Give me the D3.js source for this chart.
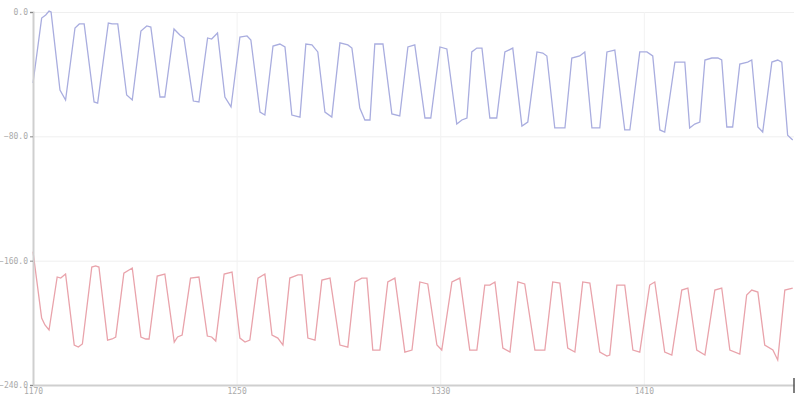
<!DOCTYPE html>
<html><head><meta charset="utf-8">
<script src="https://cdn.jsdelivr.net/npm/d3@7"></script>
<style>
html,body{margin:0;padding:0;background:#fff;}
svg{display:block;}
.tick text{font-family:"DejaVu Sans Mono",monospace;font-size:8px;fill:#aaa;}
</style></head>
<body><svg id="c" width="800" height="400"></svg>
<script>
const xTicks = [1170, 1250, 1330, 1410];
const yTicks = [0, -80, -160, -240];
const xDomain = [1170, 1469];
const yDomain = [-240, 0];

const blueX = [1170,1173.4,1175,1176.3,1177.1,1180.6,1182.8,1186.5,1188.2,1190.1,1194,1195.4,1199.6,1201.1,1203.3,1206.8,1209,1212.4,1214.7,1216.3,1219.9,1221.8,1225.4,1227.7,1229.3,1233,1235.2,1238.6,1240.2,1242.5,1245.4,1247.8,1251.3,1254.1,1255.6,1259.2,1261.1,1264.3,1267,1269,1271.7,1274.9,1277.2,1279.6,1281.9,1284.7,1287.4,1290.6,1293.7,1295.3,1298.4,1300.4,1302.4,1304.3,1307.5,1311,1314.1,1317.3,1320,1324,1326.3,1329.9,1332.6,1336.5,1338.5,1340.5,1342.4,1344.4,1346.4,1349.5,1352.2,1355.4,1358.5,1362.1,1364.4,1368,1370.3,1371.9,1375,1379,1381.7,1384.8,1386.8,1389.6,1392.7,1395.5,1398.6,1402.5,1404.5,1408.4,1411.2,1413.5,1416.3,1418.2,1422.2,1426.1,1428,1430,1432,1434,1436.7,1439.1,1440.6,1442.6,1444.9,1447.7,1450.8,1452.4,1454.8,1456.7,1460.3,1462.6,1464.2,1466.5,1468.5];
const blueY = [-45.7,-3.9,-1.9,0.6,0,-50.2,-56.6,-10.3,-7.7,-7.7,-57.9,-58.6,-7.1,-7.7,-7.7,-53.4,-56.6,-12.2,-9,-9.7,-54.7,-54.7,-10.9,-14.8,-16.7,-57.3,-57.9,-16.7,-17.4,-13.5,-54.7,-61.1,-16.1,-15.4,-18,-64.4,-66.3,-21.9,-20.6,-22.5,-66.3,-67.6,-20.6,-21.2,-25.7,-64.4,-67.6,-19.9,-21.2,-23.2,-61.8,-69.5,-69.5,-20.6,-20.6,-65.6,-66.9,-22.5,-21.2,-68.2,-68.2,-22.5,-23.8,-72.1,-69.5,-68.2,-25.7,-23.2,-23.2,-68.2,-68.2,-25.7,-23.2,-73.4,-70.8,-25.7,-26.4,-28.3,-74.6,-74.6,-29.6,-28.3,-25.7,-74.6,-74.6,-25.7,-24.5,-75.9,-75.9,-25.7,-25.7,-28.3,-75.9,-77.2,-32.2,-32.2,-74.6,-72.1,-70.8,-30.9,-29.6,-29.6,-30.9,-74,-74,-33.5,-32.2,-30.9,-74,-77.2,-32.2,-30.9,-32.2,-79.2,-82.4];

const redX = [1170,1173.4,1174.7,1176.3,1179.5,1180.9,1182.8,1186.2,1187.8,1189.4,1193.1,1194.6,1195.9,1199.3,1201.1,1202.5,1205.7,1209,1212.4,1214.3,1215.6,1218.8,1221.8,1225.5,1226.8,1228.6,1231.9,1235.2,1238.5,1240.2,1241.8,1245.1,1248.2,1251.3,1253.3,1255.2,1258.4,1261.1,1263.9,1266.2,1268.2,1270.9,1274.1,1275.7,1278,1280.8,1283.5,1286.7,1290.6,1293.7,1296.5,1299.2,1301.2,1303.5,1306.3,1309.4,1312.2,1316.1,1318.9,1322,1325.1,1328.7,1330.6,1334.6,1337.7,1341.6,1344.4,1347.5,1349.5,1351.5,1354.6,1357.4,1360.5,1363.2,1367.2,1371.1,1374.2,1377,1380.1,1382.9,1386,1388.8,1392.7,1395.5,1396.6,1399.4,1402.5,1405.7,1408.4,1412.3,1414.3,1418.2,1421,1424.9,1427.3,1430.8,1434,1437.9,1440.6,1443.8,1447.7,1450.4,1452.4,1454.8,1457.5,1460.7,1462.6,1465.4,1468.5];
const redY = [-154.2,-196.9,-201.4,-204.6,-170.5,-171.2,-168.6,-214.3,-215.6,-213.6,-164.1,-163.4,-164.1,-211.1,-210.4,-209.1,-168,-164.7,-209.1,-210.4,-210.4,-169.9,-168.6,-212.4,-209.1,-207.9,-171.2,-170.5,-208.5,-209.1,-211.7,-168.6,-167.3,-209.8,-212.4,-211.1,-171.2,-168.6,-207.9,-209.8,-214.3,-171.2,-169.2,-169.2,-209.8,-211.1,-172.5,-171.2,-214.3,-215.6,-173.7,-171.2,-171.2,-217.5,-217.5,-173.7,-171.2,-218.8,-217.5,-173.7,-175,-214.3,-217.5,-173.7,-171.2,-217.5,-217.5,-175.7,-175.7,-173.7,-216.2,-218.8,-173.7,-175,-217.5,-217.5,-173.7,-174.4,-216.2,-218.8,-173.7,-174.4,-218.8,-221.4,-220.7,-175.7,-175.7,-217.5,-218.8,-175.7,-173.7,-218.8,-220.7,-178.9,-177.6,-217.5,-220.7,-178.9,-177.6,-217.5,-220.1,-182.1,-178.9,-180.2,-214.3,-217.5,-223.9,-178.9,-177.6];

const svg = d3.select("#c");
const x = d3.scaleLinear().domain(xDomain).range([33, 794]);
const y = d3.scaleLinear().domain(yDomain).range([385, 12]);

// grid
svg.append("g").selectAll("line.h").data(yTicks.filter(d=>d>-240)).join("line")
  .attr("x1", 33).attr("x2", 794).attr("y1", d=>y(d)+0.5).attr("y2", d=>y(d)+0.5)
  .attr("stroke", "#efefef").attr("stroke-width", 1);
svg.append("g").selectAll("line.v").data(xTicks.filter(d=>d>1170)).join("line")
  .attr("y1", 12).attr("y2", 385).attr("x1", d=>x(d)+0.5).attr("x2", d=>x(d)+0.5)
  .attr("stroke", "#f2f2f2").attr("stroke-width", 1);

const line = d3.line().x(d=>x(d[0])).y(d=>y(d[1]));
const blue = blueX.map((v,i)=>[v, blueY[i]]);
const red = redX.map((v,i)=>[v, redY[i]]);

svg.append("path").datum(blue).attr("d", line).attr("fill","none")
  .attr("stroke","#a9addf").attr("stroke-width",1.3);
svg.append("path").datum(red).attr("d", line).attr("fill","none")
  .attr("stroke","#e9a3ab").attr("stroke-width",1.3);

// y axis
const ya = svg.append("g").attr("transform","translate(33,0)")
  .call(d3.axisLeft(y).tickValues(yTicks).tickFormat(d3.format(".1f")).tickSize(3).tickPadding(2));
ya.select(".domain").attr("stroke","#cfcfcf").attr("stroke-width",2);
ya.selectAll(".tick line").attr("stroke","#888");

// x axis
const xa = svg.append("g").attr("transform","translate(0,385)")
  .call(d3.axisBottom(x).tickValues(xTicks).tickFormat(d3.format("d")).tickSize(0).tickPadding(3));
xa.select(".domain").attr("stroke","#cfcfcf").attr("stroke-width",2);

// end marker
svg.append("line").attr("x1", x(xDomain[1])).attr("x2", x(xDomain[1]))
  .attr("y1", 378).attr("y2", 393).attr("stroke","#555").attr("stroke-width",1.5);
</script></body></html>
